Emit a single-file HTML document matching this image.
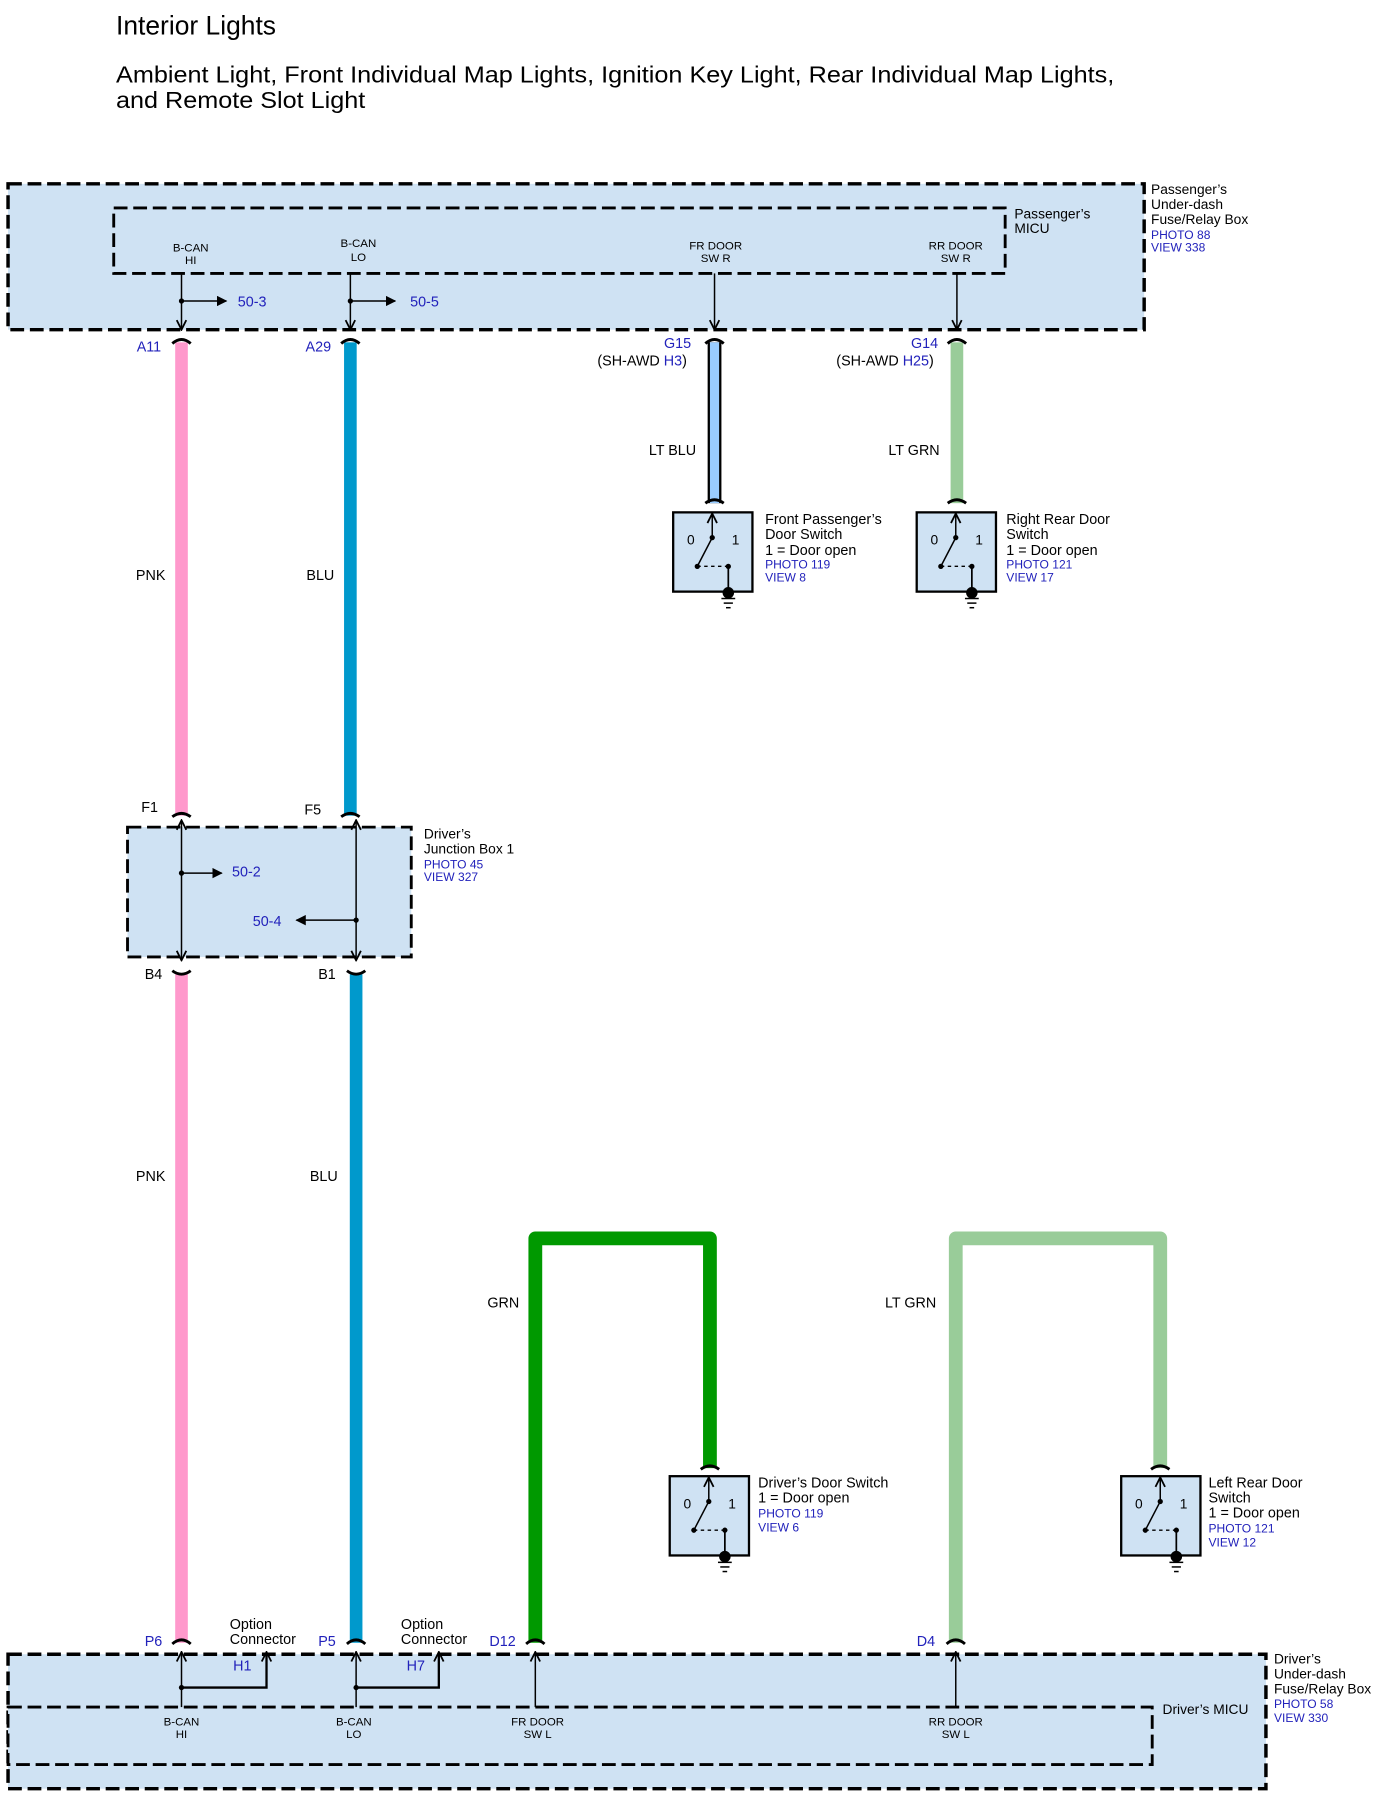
<!DOCTYPE html>
<html><head><meta charset="utf-8"><style>
html,body{margin:0;padding:0;background:#fff}
svg{display:block}
text{font-family:"Liberation Sans",Arial,sans-serif}
.b{fill:#2222bb}
</style></head><body>
<svg width="1390" height="1799" viewBox="0 0 1210 1566" preserveAspectRatio="none" xmlns="http://www.w3.org/2000/svg">
<defs>
<marker id="ah" viewBox="0 0 10 10" refX="9" refY="5" markerWidth="7" markerHeight="7" orient="auto-start-reverse"><path d="M0,0 L10,5 L0,10 z" fill="#000"/></marker>
<marker id="oa" viewBox="0 0 10 10" refX="9" refY="5" markerWidth="8" markerHeight="8" orient="auto-start-reverse"><path d="M1,1 L9,5 L1,9" fill="none" stroke="#000" stroke-width="1.5"/></marker>
</defs>
<text x="101" y="30" font-size="23">Interior Lights</text>
<text x="101" y="72" font-size="20" textLength="869" lengthAdjust="spacingAndGlyphs">Ambient Light, Front Individual Map Lights, Ignition Key Light, Rear Individual Map Lights,</text>
<text x="101" y="94" font-size="20" textLength="217" lengthAdjust="spacingAndGlyphs">and Remote Slot Light</text>

<!-- top outer box -->
<rect x="7" y="160" width="989" height="127" fill="#cfe2f3" stroke="#000" stroke-width="3" stroke-dasharray="12,5"/>
<rect x="99" y="181" width="776" height="57" fill="#cfe2f3" stroke="#000" stroke-width="2.5" stroke-dasharray="12,5"/>
<g font-size="12"><text x="1002" y="169">Passenger’s</text><text x="1002" y="182">Under-dash</text><text x="1002" y="195">Fuse/Relay Box</text></g>
<g font-size="10.5" class="b"><text x="1002" y="208">PHOTO 88</text><text x="1002" y="219">VIEW 338</text></g>
<g font-size="12"><text x="883" y="190">Passenger’s</text><text x="883" y="203">MICU</text></g>
<g font-size="10" text-anchor="middle">
<text x="166" y="219">B-CAN</text><text x="166" y="230">HI</text>
<text x="312" y="215">B-CAN</text><text x="312" y="227">LO</text>
<text x="623" y="217">FR DOOR</text><text x="623" y="228">SW R</text>
<text x="832" y="217">RR DOOR</text><text x="832" y="228">SW R</text>
</g>
<g stroke="#000" stroke-width="1.3" fill="none">
<line x1="158" y1="238" x2="158" y2="287" marker-end="url(#oa)"/>
<line x1="305" y1="238" x2="305" y2="287" marker-end="url(#oa)"/>
<line x1="622" y1="238" x2="622" y2="287" marker-end="url(#oa)"/>
<line x1="833" y1="238" x2="833" y2="287" marker-end="url(#oa)"/>
<line x1="158" y1="262" x2="197" y2="262" marker-end="url(#ah)"/>
<line x1="305" y1="262" x2="344" y2="262" marker-end="url(#ah)"/>
</g>
<circle cx="158" cy="262" r="2.3"/><circle cx="305" cy="262" r="2.3"/>
<g font-size="12.5" class="b"><text x="207" y="267">50-3</text><text x="357" y="267">50-5</text></g>

<!-- wires -->
<rect x="152.5" y="298" width="11" height="412" fill="#ff99cc"/>
<rect x="299.5" y="298" width="11" height="412" fill="#0099cc"/>
<rect x="616" y="298" width="12" height="140" fill="#000"/><rect x="618" y="298" width="8" height="140" fill="#99ccff"/>
<rect x="827.5" y="298" width="11" height="140" fill="#99cc99"/>
<rect x="152.5" y="848" width="11" height="582" fill="#ff99cc"/>
<rect x="304.5" y="848" width="11" height="582" fill="#0099cc"/>
<path d="M466,1430 V1078 H618 V1278" fill="none" stroke="#009900" stroke-width="12" stroke-linejoin="round"/>
<path d="M832,1430 V1078 H1010 V1278" fill="none" stroke="#99cc99" stroke-width="12" stroke-linejoin="round"/>

<g fill="none" stroke="#000" stroke-width="2.5">
<path d="M150,299 Q158,292 166,299"/><path d="M297,299 Q305,292 313,299"/><path d="M614,299 Q622,292 630,299"/><path d="M825,299 Q833,292 841,299"/>
<path d="M614,438 Q622,432 630,438"/><path d="M825,438 Q833,432 841,438"/>
<path d="M150,711 Q158,705 166,711"/><path d="M297,711 Q305,705 313,711"/>
<path d="M150,845 Q158,851 166,845"/><path d="M302,845 Q310,851 318,845"/>
<path d="M150,1431 Q158,1424 166,1431"/><path d="M302,1431 Q310,1424 318,1431"/><path d="M458,1431 Q466,1424 474,1431"/><path d="M824,1431 Q832,1424 840,1431"/>
<path d="M610,1279 Q618,1273 626,1279"/><path d="M1002,1279 Q1010,1273 1018,1279"/>
</g>
<g font-size="12.5" class="b"><text x="119" y="306">A11</text><text x="266" y="306">A29</text><text x="578" y="303">G15</text><text x="793" y="303">G14</text></g>
<g font-size="12.5"><text x="520" y="318">(SH-AWD <tspan class="b">H3</tspan>)</text><text x="728" y="318">(SH-AWD <tspan class="b">H25</tspan>)</text></g>
<g font-size="12.5" text-anchor="end"><text x="144" y="505">PNK</text><text x="291" y="505">BLU</text><text x="606" y="396">LT BLU</text><text x="818" y="396">LT GRN</text>
<text x="144" y="1028">PNK</text><text x="294" y="1028">BLU</text><text x="452" y="1138">GRN</text><text x="815" y="1138">LT GRN</text></g>

<g transform="translate(0,0)">
<rect x="586" y="446" width="69" height="69" fill="#cfe2f3" stroke="#000" stroke-width="2"/>
<g transform="translate(586,446)">
<line x1="34" y1="22" x2="34" y2="1" stroke="#000" stroke-width="1.3" marker-end="url(#oa)"/>
<line x1="34" y1="22" x2="21" y2="47" stroke="#000" stroke-width="1.3"/>
<line x1="21" y1="47" x2="48" y2="47" stroke="#000" stroke-width="1.2" stroke-dasharray="3,3"/>
<line x1="48" y1="47" x2="48" y2="68" stroke="#000" stroke-width="1.5"/>
<circle cx="34" cy="22" r="2.3"/><circle cx="21" cy="47" r="2.3"/><circle cx="48" cy="47" r="2.3"/>
<circle cx="48" cy="70" r="5"/>
<g stroke="#000" stroke-width="1.3"><line x1="42" y1="75" x2="54" y2="75"/><line x1="44" y1="79" x2="52" y2="79"/><line x1="46" y1="83" x2="50" y2="83"/></g>
<text x="12" y="28" font-size="12">0</text><text x="51" y="28" font-size="12">1</text>
</g></g>
<g transform="translate(212,0)">
<rect x="586" y="446" width="69" height="69" fill="#cfe2f3" stroke="#000" stroke-width="2"/>
<g transform="translate(586,446)">
<line x1="34" y1="22" x2="34" y2="1" stroke="#000" stroke-width="1.3" marker-end="url(#oa)"/>
<line x1="34" y1="22" x2="21" y2="47" stroke="#000" stroke-width="1.3"/>
<line x1="21" y1="47" x2="48" y2="47" stroke="#000" stroke-width="1.2" stroke-dasharray="3,3"/>
<line x1="48" y1="47" x2="48" y2="68" stroke="#000" stroke-width="1.5"/>
<circle cx="34" cy="22" r="2.3"/><circle cx="21" cy="47" r="2.3"/><circle cx="48" cy="47" r="2.3"/>
<circle cx="48" cy="70" r="5"/>
<g stroke="#000" stroke-width="1.3"><line x1="42" y1="75" x2="54" y2="75"/><line x1="44" y1="79" x2="52" y2="79"/><line x1="46" y1="83" x2="50" y2="83"/></g>
<text x="12" y="28" font-size="12">0</text><text x="51" y="28" font-size="12">1</text>
</g></g>
<g transform="translate(-3,839)">
<rect x="586" y="446" width="69" height="69" fill="#cfe2f3" stroke="#000" stroke-width="2"/>
<g transform="translate(586,446)">
<line x1="34" y1="22" x2="34" y2="1" stroke="#000" stroke-width="1.3" marker-end="url(#oa)"/>
<line x1="34" y1="22" x2="21" y2="47" stroke="#000" stroke-width="1.3"/>
<line x1="21" y1="47" x2="48" y2="47" stroke="#000" stroke-width="1.2" stroke-dasharray="3,3"/>
<line x1="48" y1="47" x2="48" y2="68" stroke="#000" stroke-width="1.5"/>
<circle cx="34" cy="22" r="2.3"/><circle cx="21" cy="47" r="2.3"/><circle cx="48" cy="47" r="2.3"/>
<circle cx="48" cy="70" r="5"/>
<g stroke="#000" stroke-width="1.3"><line x1="42" y1="75" x2="54" y2="75"/><line x1="44" y1="79" x2="52" y2="79"/><line x1="46" y1="83" x2="50" y2="83"/></g>
<text x="12" y="28" font-size="12">0</text><text x="51" y="28" font-size="12">1</text>
</g></g>
<g transform="translate(390,839)">
<rect x="586" y="446" width="69" height="69" fill="#cfe2f3" stroke="#000" stroke-width="2"/>
<g transform="translate(586,446)">
<line x1="34" y1="22" x2="34" y2="1" stroke="#000" stroke-width="1.3" marker-end="url(#oa)"/>
<line x1="34" y1="22" x2="21" y2="47" stroke="#000" stroke-width="1.3"/>
<line x1="21" y1="47" x2="48" y2="47" stroke="#000" stroke-width="1.2" stroke-dasharray="3,3"/>
<line x1="48" y1="47" x2="48" y2="68" stroke="#000" stroke-width="1.5"/>
<circle cx="34" cy="22" r="2.3"/><circle cx="21" cy="47" r="2.3"/><circle cx="48" cy="47" r="2.3"/>
<circle cx="48" cy="70" r="5"/>
<g stroke="#000" stroke-width="1.3"><line x1="42" y1="75" x2="54" y2="75"/><line x1="44" y1="79" x2="52" y2="79"/><line x1="46" y1="83" x2="50" y2="83"/></g>
<text x="12" y="28" font-size="12">0</text><text x="51" y="28" font-size="12">1</text>
</g></g>

<g font-size="12.5"><text x="666" y="456">Front Passenger’s</text><text x="666" y="469">Door Switch</text><text x="666" y="483">1 = Door open</text>
<text x="876" y="456">Right Rear Door</text><text x="876" y="469">Switch</text><text x="876" y="483">1 = Door open</text>
<text x="660" y="1295">Driver’s Door Switch</text><text x="660" y="1308">1 = Door open</text>
<text x="1052" y="1295">Left Rear Door</text><text x="1052" y="1308">Switch</text><text x="1052" y="1321">1 = Door open</text></g>
<g font-size="10.5" class="b"><text x="666" y="495">PHOTO 119</text><text x="666" y="506">VIEW 8</text>
<text x="876" y="495">PHOTO 121</text><text x="876" y="506">VIEW 17</text>
<text x="660" y="1321">PHOTO 119</text><text x="660" y="1333">VIEW 6</text>
<text x="1052" y="1334">PHOTO 121</text><text x="1052" y="1346">VIEW 12</text></g>

<!-- junction box -->
<text x="123" y="707" font-size="12.5">F1</text><text x="265" y="709" font-size="12.5">F5</text>
<rect x="111" y="720" width="247" height="113" fill="#cfe2f3" stroke="#000" stroke-width="2.5" stroke-dasharray="12,5"/>
<g stroke="#000" stroke-width="1.3" fill="none">
<line x1="158" y1="760" x2="158" y2="714" marker-end="url(#oa)"/><line x1="158" y1="760" x2="158" y2="836" marker-end="url(#oa)"/>
<line x1="310" y1="800" x2="310" y2="714" marker-end="url(#oa)"/><line x1="310" y1="800" x2="310" y2="836" marker-end="url(#oa)"/>
<line x1="158" y1="760" x2="193" y2="760" marker-end="url(#ah)"/>
<line x1="310" y1="801" x2="258" y2="801" marker-end="url(#ah)"/>
</g>
<circle cx="158" cy="760" r="2.3"/><circle cx="310" cy="801" r="2.3"/>
<g font-size="12.5" class="b"><text x="202" y="763">50-2</text><text x="220" y="806">50-4</text></g>
<g font-size="12"><text x="369" y="730">Driver’s</text><text x="369" y="743">Junction Box 1</text></g>
<g font-size="10.5" class="b"><text x="369" y="756">PHOTO 45</text><text x="369" y="767">VIEW 327</text></g>
<text x="126" y="852" font-size="12.5">B4</text><text x="277" y="852" font-size="12.5">B1</text>

<!-- bottom box -->
<rect x="7" y="1440" width="1095" height="117" fill="#cfe2f3" stroke="#000" stroke-width="3" stroke-dasharray="12,5"/>
<rect x="7" y="1486" width="996" height="50" fill="#cfe2f3" stroke="#000" stroke-width="2.5" stroke-dasharray="12,5"/>
<g font-size="12"><text x="1109" y="1448">Driver’s</text><text x="1109" y="1461">Under-dash</text><text x="1109" y="1474">Fuse/Relay Box</text><text x="1012" y="1492">Driver’s MICU</text></g>
<g font-size="10.5" class="b"><text x="1109" y="1487">PHOTO 58</text><text x="1109" y="1499">VIEW 330</text></g>
<g font-size="12.5" class="b"><text x="126" y="1433">P6</text><text x="277" y="1433">P5</text><text x="426" y="1433">D12</text><text x="798" y="1433">D4</text>
<text x="203" y="1454">H1</text><text x="354" y="1454">H7</text></g>
<g font-size="12.5"><text x="200" y="1418">Option</text><text x="200" y="1431">Connector</text><text x="349" y="1418">Option</text><text x="349" y="1431">Connector</text></g>
<g stroke="#000" stroke-width="1.3" fill="none">
<line x1="158" y1="1486" x2="158" y2="1438" marker-end="url(#oa)"/>
<line x1="310" y1="1486" x2="310" y2="1438" marker-end="url(#oa)"/>
<line x1="466" y1="1486" x2="466" y2="1438" marker-end="url(#oa)"/>
<line x1="832" y1="1486" x2="832" y2="1438" marker-end="url(#oa)"/>
<path d="M232,1469 V1438" marker-end="url(#oa)"/>
<path d="M382,1469 V1438" marker-end="url(#oa)"/>
</g>
<path d="M158,1469 H232 V1440 M310,1469 H382 V1440" fill="none" stroke="#000" stroke-width="2"/>
<circle cx="158" cy="1469" r="2.3"/><circle cx="310" cy="1469" r="2.3"/>
<g font-size="10" text-anchor="middle">
<text x="158" y="1502">B-CAN</text><text x="158" y="1513">HI</text>
<text x="308" y="1502">B-CAN</text><text x="308" y="1513">LO</text>
<text x="468" y="1502">FR DOOR</text><text x="468" y="1513">SW L</text>
<text x="832" y="1502">RR DOOR</text><text x="832" y="1513">SW L</text>
</g>
</svg>
</body></html>
